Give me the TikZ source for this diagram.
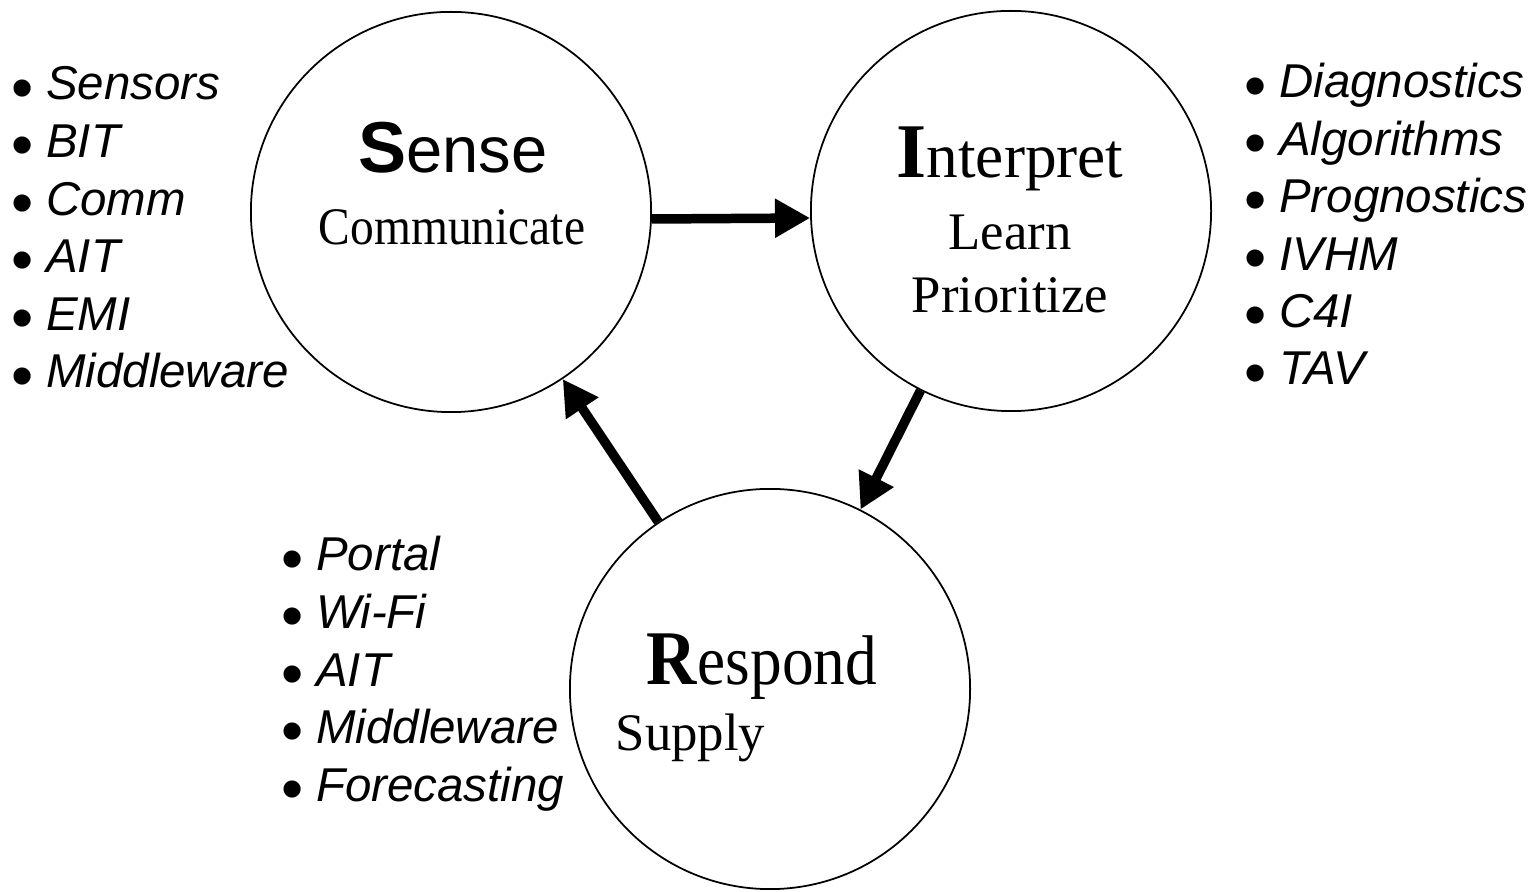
\documentclass[tikz,border=0pt]{standalone}
\usepackage{fontspec}
\setmainfont{Liberation Serif}
\setsansfont{Liberation Sans}
\newfontfamily\slimserif[FakeStretch=0.9]{Liberation Serif}
\usepackage{tikz}
\usetikzlibrary{arrows.meta}
\newcommand{\itm}[1]{\raisebox{-2.6pt}[0pt][0pt]{\upshape\fontsize{18}{18}\selectfont\textbullet}\hspace{3.5pt}\textit{#1}}

\begin{document}
\begin{tikzpicture}[x=0.01cm, y=-0.01cm,
  >={Triangle[length=10pt,width=10.5pt]},
  ring/.style={draw, circle, line width=0.5pt, minimum size=4cm, inner sep=0pt},
  flow/.style={->, line width=2.7pt},
  item/.style={anchor=base west, inner sep=0pt, font={\sffamily\fontsize{13.5}{16}\selectfont}},
  word/.style={anchor=base, inner sep=0pt}]
  \useasboundingbox (0,0) rectangle (1534,892);
  \node[ring] (S) at (451,212) {};
  \node[ring] (I) at (1011,211) {};
  \node[ring] (R) at (770,689) {};
  \node[word] (sensename) at (453,173) {\sffamily\fontsize{20.5}{24}\selectfont\textbf{S}\fontsize{18.5}{22}\selectfont ense};
  \node[word] (sensesub) at (452,245) {\slimserif\fontsize{15}{18}\selectfont Communicate};
  \node[word] (interpname) at (1010,178) {\fontsize{22}{26}\selectfont\textbf{I}\fontsize{18}{22}\selectfont nterpret};
  \node[word] (learn) at (1010,250) {\fontsize{15}{18}\selectfont Learn};
  \node[word] (prioritize) at (1010,313) {\fontsize{15}{18}\selectfont Prioritize};
  \node[word] (respname) at (762,685) {\slimserif\fontsize{22}{26}\selectfont\textbf{R}\fontsize{20}{24}\selectfont espond};
  \node[word, anchor=base west] (supply) at (615,750) {\fontsize{15}{18}\selectfont Supply};
  \draw[flow] (S.-2) -- (I.182);
  \draw[flow] (I) -- (R);
  \draw[flow] (R) -- (S);
  % bullet lists
  \foreach \t [count=\k] in {Sensors, BIT, Comm, AIT, EMI, Middleware}
    \node[item] (sensetool\k) at (11, {100+57.6*(\k-1)}) {\itm{\t}};
  \foreach \t [count=\k] in {Diagnostics, Algorithms, Prognostics, IVHM, C4I, TAV}
    \node[item] (interptool\k) at (1244, {98+57.4*(\k-1)}) {\itm{\t}};
  \foreach \t [count=\k] in {Portal, Wi-Fi, AIT, Middleware, Forecasting}
    \node[item] (resptool\k) at (281, {571+57.5*(\k-1)}) {\itm{\t}};
\end{tikzpicture}
\end{document}
